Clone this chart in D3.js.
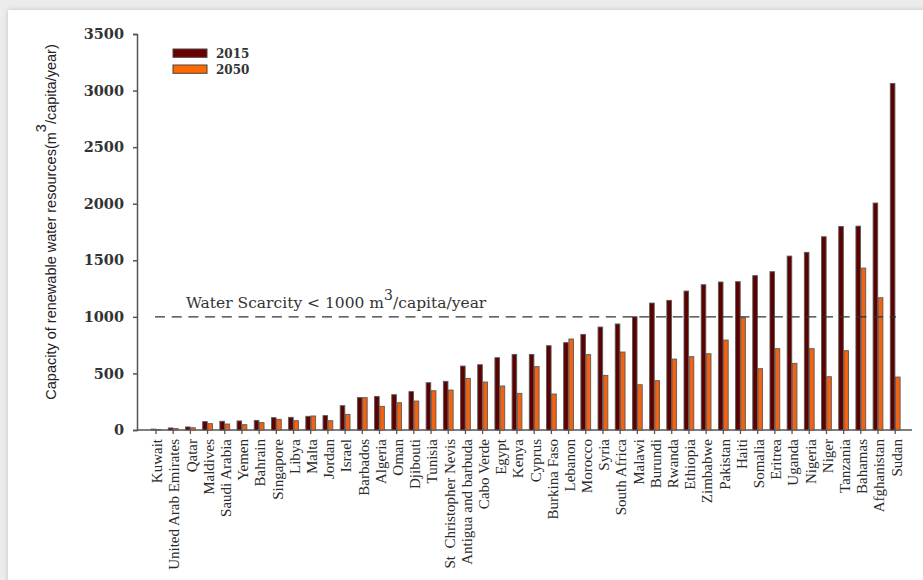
<!DOCTYPE html>
<html>
<head>
<meta charset="utf-8">
<script src="https://cdn.jsdelivr.net/npm/d3@7"></script>
<style>
  html, body { margin: 0; padding: 0; background: #ececec; }
  svg { display: block; }
</style>
</head>
<body>
<svg id="chart" width="923" height="580"></svg>
<script>
// Countries, ordered by 2015 renewable water resources per capita
const countries = [
  "Kuwait", "United Arab Emirates", "Qatar", "Maldives", "Saudi Arabia", "Yemen",
  "Bahrain", "Singapore", "Libya", "Malta", "Jordan", "Israel", "Barbados",
  "Algeria", "Oman", "Djibouti", "Tunisia", "St  Christopher Nevis",
  "Antigua and barbuda", "Cabo Verde", "Egypt", "Kenya", "Cyprus", "Burkina Faso",
  "Lebanon", "Morocco", "Syria", "South Africa", "Malawi", "Burundi", "Rwanda",
  "Ethiopia", "Zimbabwe", "Pakistan", "Haiti", "Somalia", "Eritrea", "Uganda",
  "Nigeria", "Niger", "Tanzania", "Bahamas", "Afghanistan", "Sudan"
];

// m3 per capita per year
const values2015 = [
  8, 18, 27, 74, 77, 80, 85, 109, 112, 121, 127, 215, 286,
  297, 312, 339, 418, 430, 565, 577, 639, 668, 668, 745,
  772, 845, 910, 937, 1001, 1122, 1146, 1228, 1284, 1308, 1311, 1364, 1399, 1537,
  1570, 1708, 1799, 1802, 2006, 3063
];
const values2050 = [
  3, 12, 20, 56, 53, 47, 65, 94, 82, 124, 82, 138, 286,
  209, 241, 256, 347, 353, 456, 424, 389, 324, 560, 318,
  804, 666, 483, 689, 400, 436, 627, 648, 674, 795, 992, 542, 719, 589,
  719, 471, 701, 1431, 1169, 468
];

const seriesNames = ["2015", "2050"];
const seriesColors = ["#5c0000", "#f26210"];
const legendColors = ["#6b0000", "#ff6a00"];
const yTicks = [0, 500, 1000, 1500, 2000, 2500, 3000, 3500];
const scarcityThreshold = 1000;

const svg = d3.select("#chart");

// page panel with a soft edge
const defs = svg.append("defs");
const shadow = defs.append("filter").attr("id", "soft").attr("x", "-5%").attr("y", "-5%")
  .attr("width", "110%").attr("height", "110%");
shadow.append("feDropShadow").attr("dx", 0).attr("dy", 0).attr("stdDeviation", 2.5)
  .attr("flood-color", "#000").attr("flood-opacity", 0.18);
svg.append("rect").attr("x", 8).attr("y", 10).attr("width", 930).attr("height", 590)
  .attr("fill", "#fff").attr("filter", "url(#soft)");

const x = d3.scaleBand().domain(countries).range([147.4, 903.8]).padding(0);
const y = d3.scaleLinear().domain([0, 3500]).range([430, 34]);
const cx = d => x(d) + x.bandwidth() / 2;

const axisColor = "#555";
const textColor = "#333";

// y axis
const yAxis = svg.append("g").attr("transform", "translate(137,0)")
  .call(d3.axisLeft(y).tickValues(yTicks).tickSize(4).tickPadding(9).tickFormat(d3.format("d")));
yAxis.select(".domain").attr("stroke", axisColor).attr("stroke-width", 1.5);
yAxis.selectAll(".tick line").attr("stroke", axisColor).attr("stroke-width", 1.5);
yAxis.selectAll(".tick text")
  .attr("fill", textColor)
  .style("font-family", "'DejaVu Serif', serif")
  .style("font-size", "14.5px")
  .style("font-weight", "bold");

// x axis
const xAxis = svg.append("g").attr("transform", "translate(0,430)")
  .call(d3.axisBottom(x).tickSize(4).tickSizeOuter(0).tickFormat(""));
xAxis.select(".domain").attr("d", "M137,0H912").attr("stroke", axisColor).attr("stroke-width", 1.5);
xAxis.selectAll(".tick line").attr("stroke", axisColor).attr("stroke-width", 1.3);

// rotated country labels
svg.append("g").selectAll("text").data(countries).join("text")
  .attr("transform", d => `translate(${cx(d)},439) rotate(-90)`)
  .attr("dy", "0.42em")
  .attr("text-anchor", "end")
  .attr("fill", "#2a2a2a")
  .style("font-family", "'Liberation Serif', serif")
  .style("font-size", "15px")
  .style("white-space", "pre")
  .text(d => d);

// bars
const barW = 4.6;
const bars = svg.append("g");
[values2015, values2050].forEach((vals, s) => {
  bars.append("g").selectAll("rect").data(countries).join("rect")
    .attr("x", d => s === 0 ? cx(d) - barW - 0.3 : cx(d) + 0.3)
    .attr("y", (d, i) => y(vals[i]))
    .attr("width", barW)
    .attr("height", (d, i) => y(0) - y(vals[i]))
    .attr("fill", seriesColors[s])
    .attr("stroke", "#5a5a5a")
    .attr("stroke-width", 0.9);
});

// water scarcity threshold
svg.append("line")
  .attr("x1", 155).attr("x2", 896)
  .attr("y1", y(scarcityThreshold)).attr("y2", y(scarcityThreshold))
  .attr("stroke", "#333").attr("stroke-width", 1.2)
  .attr("stroke-dasharray", "10,6.7");

const note = svg.append("text")
  .attr("x", 186).attr("y", 308)
  .attr("fill", textColor)
  .style("font-family", "'DejaVu Serif', serif")
  .style("font-size", "15.5px");
note.append("tspan").text("Water Scarcity < 1000 m");
note.append("tspan").attr("dy", -8).style("font-size", "14px").text("3");
note.append("tspan").attr("dy", 8).text("/capita/year");

// y axis title
const yTitle = svg.append("text")
  .attr("transform", "translate(56,222) rotate(-90)")
  .attr("text-anchor", "middle")
  .attr("fill", "#222")
  .style("font-family", "'Liberation Sans', sans-serif")
  .style("font-size", "14.5px");
yTitle.append("tspan").text("Capacity of renewable water resources(m");
yTitle.append("tspan").attr("dy", -10).text("3");
yTitle.append("tspan").attr("dy", 10).text("/capita/year)");

// legend
const legend = svg.append("g");
seriesNames.forEach((name, i) => {
  legend.append("rect")
    .attr("x", 173).attr("y", 49 + i * 16)
    .attr("width", 34).attr("height", 8.3)
    .attr("fill", legendColors[i])
    .attr("stroke", "#444").attr("stroke-width", 1);
  legend.append("text")
    .attr("x", 216).attr("y", 57.5 + i * 16)
    .attr("fill", textColor)
    .style("font-family", "'DejaVu Serif', serif")
    .style("font-size", "12px")
    .style("font-weight", "bold")
    .text(name);
});
</script>
</body>
</html>
